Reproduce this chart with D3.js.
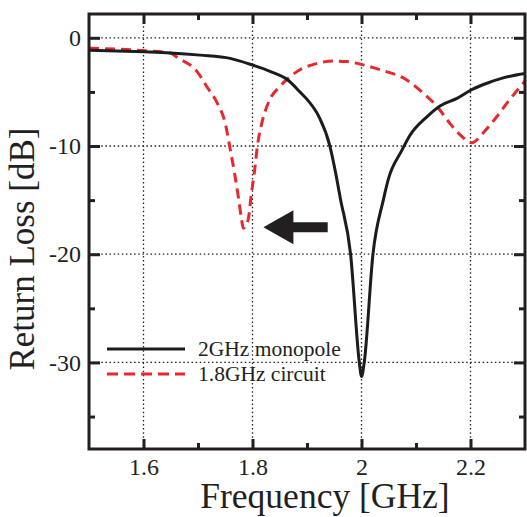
<!DOCTYPE html>
<html>
<head>
<meta charset="utf-8">
<script src="https://cdn.jsdelivr.net/npm/d3@7"></script>
<style>
  html, body { margin: 0; padding: 0; background: #fff; }
  svg { display: block; }
  text { font-family: "Liberation Serif", "Times New Roman", serif; fill: #231f20; }
</style>
</head>
<body>
<svg id="chart" width="527" height="517"></svg>
<script>
// Measured return loss of the 2 GHz monopole (solid) and with the 1.8 GHz circuit (dashed)
const freqMonopole = [1.5, 1.601, 1.649, 1.704, 1.759, 1.799, 1.832, 1.865, 1.887, 1.902, 1.922, 1.942,
  1.953, 1.961, 1.980, 1.996, 2.0, 2.005, 2.021, 2.040, 2.049, 2.074, 2.089, 2.120, 2.144, 2.175,
  2.202, 2.230, 2.260, 2.3];
const lossMonopole = [-1.15, -1.3, -1.4, -1.6, -1.9, -2.5, -3.1, -3.9, -5.0, -5.8, -7.3, -10,
  -12.6, -14.8, -20, -30, -31.3, -30, -20, -15, -13.1, -10.4, -9.0, -7.3, -6.3, -5.6,
  -4.8, -4.2, -3.7, -3.3];

const freqCircuit = [1.5, 1.603, 1.649, 1.663, 1.698, 1.716, 1.737, 1.750, 1.758, 1.767, 1.774, 1.780,
  1.783, 1.792, 1.798, 1.804, 1.809, 1.817, 1.829, 1.850, 1.869, 1.887, 1.906, 1.924, 1.950,
  1.973, 2.003, 2.034, 2.083, 2.113, 2.138, 2.162, 2.184, 2.202, 2.223, 2.248, 2.272, 2.3];
const lossCircuit = [-0.95, -1.2, -1.4, -1.85, -3.1, -4.5, -6.2, -7.9, -10, -12.5, -14.7, -16.8,
  -17.6, -16.8, -14.4, -12.2, -10, -7.9, -6.0, -4.5, -3.6, -2.95, -2.55, -2.3, -2.15,
  -2.2, -2.5, -2.95, -3.9, -5.1, -6.3, -7.9, -9.1, -9.7, -8.8, -7.3, -5.7, -4.0];

const seriesNames = ["2GHz monopole", "1.8GHz circuit"];
const xMajorTicks = [1.6, 1.8, 2.0, 2.2];
const xMinorTicks = [1.7, 1.9, 2.1];
const yMajorTicks = [0, -10, -20, -30];
const yMinorTicks = [-5, -15, -25, -35];
const xTitle = "Frequency [GHz]";
const yTitle = "Return Loss [dB]";
// Arrow pointing from the monopole dip toward the shifted resonance
const arrowTip = [1.82, -17.5];
const arrowTail = [1.938, -17.5];

const svg = d3.select("#chart");
const plotLeft = 89, plotRight = 525, plotTop = 14, plotBottom = 449;

const x = d3.scaleLinear().domain([1.5, 2.3]).range([plotLeft, plotRight]);
const y = d3.scaleLinear().domain([2.2, -38]).range([plotTop, plotBottom]);

const ink = "#231f20";
const red = "#e8282e";
const serif = "'Liberation Serif', 'Times New Roman', serif";

// dotted grid
const grid = svg.append("g");
grid.selectAll("line.gx").data(xMajorTicks).join("line")
  .attr("x1", d => x(d)).attr("x2", d => x(d)).attr("y1", plotTop).attr("y2", plotBottom)
  .attr("stroke", ink).attr("stroke-width", 1.3).attr("stroke-dasharray", "1.5,2.6");
grid.selectAll("line.gy").data(yMajorTicks).join("line")
  .attr("y1", d => y(d)).attr("y2", d => y(d)).attr("x1", plotLeft).attr("x2", plotRight)
  .attr("stroke", ink).attr("stroke-width", 1.3).attr("stroke-dasharray", "1.5,2.6");

// curves
svg.append("clipPath").attr("id", "plotclip").append("rect")
  .attr("x", plotLeft).attr("y", plotTop).attr("width", plotRight - plotLeft).attr("height", plotBottom - plotTop);

const line = d3.line().x(d => x(d[0])).y(d => y(d[1])).curve(d3.curveMonotoneX);
const curves = svg.append("g").attr("clip-path", "url(#plotclip)");
curves.append("path")
  .datum(d3.zip(freqCircuit, lossCircuit))
  .attr("d", line).attr("fill", "none").attr("stroke", red)
  .attr("stroke-width", 3).attr("stroke-dasharray", "10,6");
curves.append("path")
  .datum(d3.zip(freqMonopole, lossMonopole))
  .attr("d", line).attr("fill", "none").attr("stroke", "#1c1c1c")
  .attr("stroke-width", 3).attr("stroke-linejoin", "round");

// axes with inward ticks
function styleAxis(g) {
  g.attr("font-family", null);
  g.select(".domain").remove();
  g.selectAll(".tick line").attr("stroke", ink).attr("stroke-width", 3);
  g.selectAll("text").attr("fill", ink)
    .style("font-family", serif).style("font-size", "24px");
}
const fmt = d => String(+d.toFixed(1));

svg.append("g").attr("transform", `translate(0,${plotBottom})`)
  .call(d3.axisBottom(x).tickValues(xMajorTicks).tickSize(-10).tickPadding(9).tickFormat(fmt))
  .call(styleAxis);
svg.append("g").attr("transform", `translate(0,${plotBottom})`)
  .call(d3.axisBottom(x).tickValues(xMinorTicks).tickSize(-6).tickFormat(""))
  .call(styleAxis);
svg.append("g").attr("transform", `translate(0,${plotTop})`)
  .call(d3.axisTop(x).tickValues(xMajorTicks).tickSize(-10).tickFormat(""))
  .call(styleAxis);
svg.append("g").attr("transform", `translate(0,${plotTop})`)
  .call(d3.axisTop(x).tickValues(xMinorTicks).tickSize(-6).tickFormat(""))
  .call(styleAxis);

svg.append("g").attr("transform", `translate(${plotLeft},0)`)
  .call(d3.axisLeft(y).tickValues(yMajorTicks).tickSize(-11).tickPadding(8).tickFormat(fmt))
  .call(styleAxis);
svg.append("g").attr("transform", `translate(${plotLeft},0)`)
  .call(d3.axisLeft(y).tickValues(yMinorTicks).tickSize(-6).tickFormat(""))
  .call(styleAxis);
svg.append("g").attr("transform", `translate(${plotRight},0)`)
  .call(d3.axisRight(y).tickValues(yMajorTicks).tickSize(-11).tickFormat(""))
  .call(styleAxis);
svg.append("g").attr("transform", `translate(${plotRight},0)`)
  .call(d3.axisRight(y).tickValues(yMinorTicks).tickSize(-6).tickFormat(""))
  .call(styleAxis);

// frame
svg.append("rect").attr("x", plotLeft).attr("y", plotTop)
  .attr("width", plotRight - plotLeft).attr("height", plotBottom - plotTop)
  .attr("fill", "none").attr("stroke", ink).attr("stroke-width", 3);

// axis titles
svg.append("text").attr("x", 325).attr("y", 508)
  .attr("text-anchor", "middle").style("font-size", "35.5px").text(xTitle);
svg.append("text").attr("transform", `translate(34,${249}) rotate(-90)`)
  .attr("text-anchor", "middle").style("font-size", "35px").text(yTitle);

// legend
const legend = svg.append("g");
const legendRows = [
  { name: seriesNames[0], color: "#1c1c1c", dash: null, y: 349 },
  { name: seriesNames[1], color: red, dash: "11,6", y: 374 }
];
legendRows.forEach(r => {
  legend.append("line").attr("x1", 107).attr("x2", 185).attr("y1", r.y).attr("y2", r.y)
    .attr("stroke", r.color).attr("stroke-width", 3)
    .attr("stroke-dasharray", r.dash);
  legend.append("text").attr("x", 198).attr("y", r.y).attr("dy", "0.33em")
    .style("font-size", "21.5px").text(r.name);
});

// arrow annotation
const tipX = x(arrowTip[0]), tipY = y(arrowTip[1]);
const tailX = x(arrowTail[0]);
const headLen = 30, headHalf = 17, shaftHalf = 5;
svg.append("path")
  .attr("d", [
    `M${tipX},${tipY}`,
    `L${tipX + headLen},${tipY - headHalf}`,
    `L${tipX + headLen},${tipY - shaftHalf}`,
    `L${tailX},${tipY - shaftHalf}`,
    `L${tailX},${tipY + shaftHalf}`,
    `L${tipX + headLen},${tipY + shaftHalf}`,
    `L${tipX + headLen},${tipY + headHalf}`,
    "Z"].join(""))
  .attr("fill", ink);
</script>
</body>
</html>
